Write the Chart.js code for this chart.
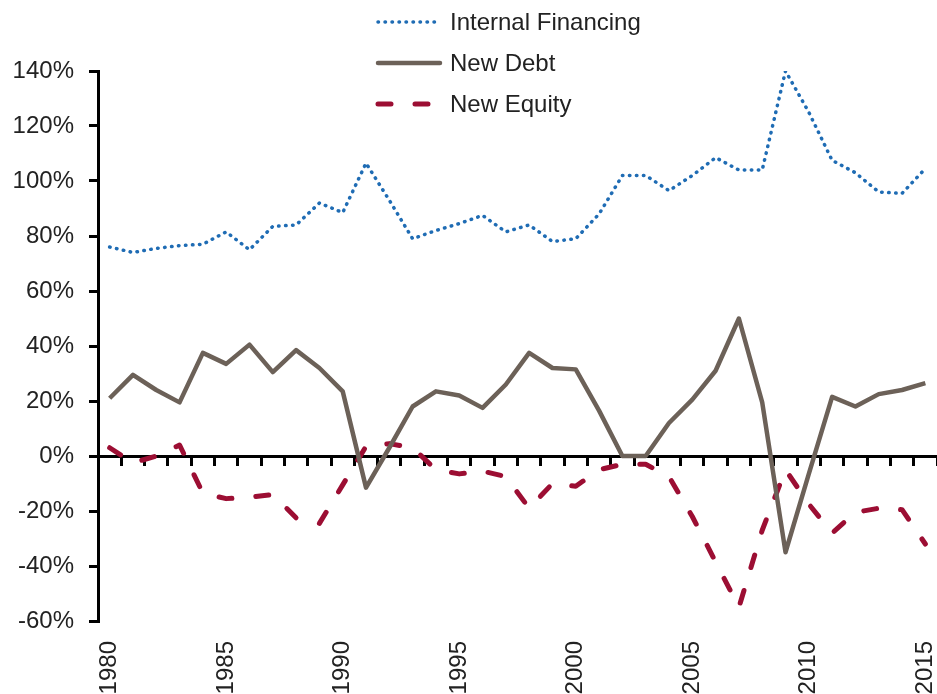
<!DOCTYPE html>
<html lang="en">
<head>
    <meta charset="UTF-8">
    <title>Sources of Financing</title>
    <script src="https://cdn.jsdelivr.net/npm/chart.js"></script>
    <style>
        html, body {
            margin: 0;
            padding: 0;
            background: #fff;
        }
        #wrap {
            position: relative;
            width: 937px;
            height: 694px;
        }
        #legend {
            position: absolute;
            left: 374px;
            top: 2px;
            font-family: "Liberation Sans", Arial, sans-serif;
            font-size: 24px;
            color: #222;
        }
        #legend .item {
            display: flex;
            align-items: center;
            height: 40.7px;
        }
        #legend svg {
            margin-right: 6px;
        }
    </style>
</head>
<body>
<div id="wrap">
    <canvas id="chart" width="937" height="694"></canvas>
    <div id="legend"></div>
</div>

<script>
    // Data (share of total financing, %)
    const years = ['1980', '1981', '1982', '1983', '1984', '1985', '1986', '1987', '1988', '1989',
        '1990', '1991', '1992', '1993', '1994', '1995', '1996', '1997', '1998', '1999',
        '2000', '2001', '2002', '2003', '2004', '2005', '2006', '2007', '2008', '2009',
        '2010', '2011', '2012', '2013', '2014', '2015'];

    const internalFinancing = [76, 74, 75.5, 76.5, 77, 81.5, 75, 83.5, 84, 92,
        88.5, 106.5, 93, 79, 82, 84.5, 87.5, 81.5, 84, 78,
        79, 88, 102, 102, 96.5, 102, 108.5, 104, 104, 140,
        125, 107.5, 103, 96, 95.5, 104.5];

    const newDebt = [21, 29.5, 24, 19.5, 37.5, 33.5, 40.5, 30.5, 38.5, 32,
        23.5, -11.5, 3, 18, 23.5, 22, 17.5, 26, 37.5, 32,
        31.5, 16.5, 0, 0, 12, 20.5, 31, 50, 19.5, -35,
        -6.5, 21.5, 18, 22.5, 24, 26.5];

    const newEquity = [3, -2.5, 0, 4, -13.5, -15.5, -15, -14, -22.5, -24.5,
        -10.5, 3.5, 4.5, 3, -5, -6.5, -5.5, -7.5, -19, -10,
        -11, -5, -3, -3, -7.5, -22, -38.5, -55, -27, -5,
        -17.5, -28, -20.5, -19, -19.5, -32];

    const yMin = -60;
    const yMax = 140;
    const yStep = 20;
    const labelEvery = 5;

    const tickFont = { family: '"Liberation Sans", Arial, sans-serif', size: 24 };

    // legend drawn as html, built from the datasets
    const htmlLegend = {
        id: 'htmlLegend',
        afterUpdate(chart) {
            const box = document.getElementById('legend');
            box.innerHTML = '';
            chart.data.datasets.forEach(ds => {
                const row = document.createElement('div');
                row.className = 'item';
                const dash = (ds.borderDash || []).join(' ');
                row.innerHTML = `
                    <svg width="70" height="12">
                        <line x1="4" y1="6" x2="66" y2="6" stroke="${ds.borderColor}"
                              stroke-width="${ds.borderWidth}" stroke-linecap="round"
                              stroke-dasharray="${dash}"/>
                    </svg>
                    <span>${ds.label}</span>`;
                box.appendChild(row);
            });
        }
    };

    const ctx = document.getElementById('chart').getContext('2d');
    new Chart(ctx, {
        type: 'line',
        data: {
            labels: years,
            datasets: [
                {
                    label: 'Internal Financing',
                    data: internalFinancing,
                    borderColor: '#1f6cb4',
                    borderWidth: 3.5,
                    borderDash: [0.5, 6.5],
                    borderCapStyle: 'round',
                    pointRadius: 0,
                    fill: false
                },
                {
                    label: 'New Debt',
                    data: newDebt,
                    borderColor: '#6c6158',
                    borderWidth: 4.5,
                    borderJoinStyle: 'round',
                    pointRadius: 0,
                    fill: false
                },
                {
                    label: 'New Equity',
                    data: newEquity,
                    borderColor: '#9c0e33',
                    borderWidth: 5,
                    borderDash: [13, 24],
                    borderCapStyle: 'round',
                    borderJoinStyle: 'round',
                    pointRadius: 0,
                    fill: false
                }
            ]
        },
        options: {
            responsive: false,
            animation: false,
            layout: {
                padding: { top: 71, left: 13, right: 0, bottom: 0 }
            },
            plugins: {
                legend: { display: false },
                tooltip: { enabled: false }
            },
            scales: {
                x: {
                    type: 'category',
                    offset: true,
                    grid: { display: false, drawTicks: false },
                    border: { display: false },
                    ticks: {
                        autoSkip: false,
                        minRotation: 90,
                        maxRotation: 90,
                        padding: 20,
                        color: '#222',
                        font: tickFont,
                        callback: function (value) {
                            const label = this.getLabelForValue(value);
                            return Number(label) % labelEvery === 0 ? label : '';
                        }
                    },
                    afterFit: scale => {
                        scale.height = 73;
                        scale.paddingLeft = 0;
                        scale.paddingRight = 0;
                    }
                },
                x2: {
                    type: 'category',
                    labels: years,
                    offset: true,
                    position: { y: 0 },
                    grid: {
                        offset: true,
                        drawOnChartArea: false,
                        drawTicks: true,
                        tickLength: 8,
                        color: '#000',
                        lineWidth: 3
                    },
                    border: { display: true, color: '#000', width: 3 },
                    ticks: { display: false },
                    afterFit: scale => {
                        scale.paddingLeft = 0;
                        scale.paddingRight = 0;
                    }
                },
                y: {
                    min: yMin,
                    max: yMax,
                    grid: {
                        drawOnChartArea: false,
                        drawTicks: true,
                        tickLength: 9,
                        color: '#000',
                        lineWidth: 3
                    },
                    border: { display: true, color: '#000', width: 3 },
                    ticks: {
                        stepSize: yStep,
                        padding: 15,
                        color: '#222',
                        font: tickFont,
                        callback: v => v + '%'
                    },
                    afterFit: scale => {
                        scale.width = 85;
                        scale.paddingTop = 0;
                        scale.paddingBottom = 0;
                    }
                }
            }
        },
        plugins: [htmlLegend]
    });
</script>
</body>
</html>
